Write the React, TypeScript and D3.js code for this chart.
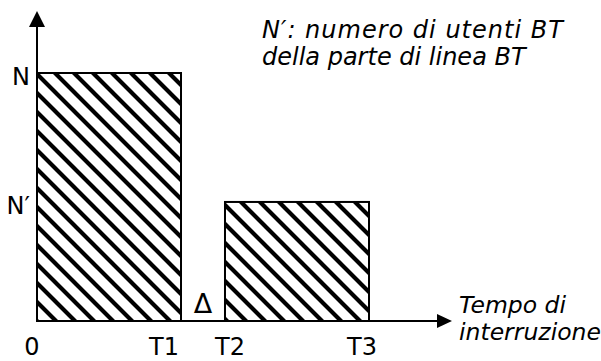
import React from "react";
import * as d3 from "d3";

// interruption times (arbitrary units) and users affected
const T1 = 3.47;
const T2 = 4.53;
const T3 = 8;
const N = 8;
const Nprime = 3.84;

const barStarts = [0, T2];
const barEnds = [T1, T3];
const barHeights = [N, Nprime];

const xTickValues = [0, T1, T2, T3];
const xTickLabels = ["0", "T1", "T2", "T3"];
const yTickValues = [N, Nprime];
const yTickLabels = ["N", "N′"];

const noteLines = ["N′: numero di utenti BT", "della parte di linea BT"];
const xTitleLines = ["Tempo di", "interruzione"];

const width = 601;
const height = 361;

const App = () => {
  const x = d3.scaleLinear().domain([0, 10]).range([37, 452]);
  const y = d3.scaleLinear().domain([0, 10]).range([321, 11]);
  const font = "'DejaVu Sans', Verdana, sans-serif";

  // label nudges so they sit like the original
  const xLabelAnchor = ["middle", "end", "start", "middle"];
  const xLabelDx = [-5, -2, -10, -7];
  const noteSpacing = [1, 0];

  const x0 = x(0);
  const y0 = y(0);
  const xEnd = x(10);
  const yEnd = y(10);

  return (
    <div style={{ position: "absolute", left: 0, top: 0 }}>
      <svg width={width} height={height} style={{ display: "block", background: "#fff" }}>
        <defs>
          <pattern
            id="hatch"
            patternUnits="userSpaceOnUse"
            width={19}
            height={19}
            x={x0}
            y={y0}
          >
            <rect width={19} height={19} fill="#fff" />
            <path
              d="M-3,-3 L22,22 M-3,16 L3,22 M16,-3 L22,3"
              stroke="#000"
              strokeWidth={4.2}
            />
          </pattern>
        </defs>

        {barStarts.map((s, i) => (
          <rect
            key={i}
            x={x(s)}
            y={y(barHeights[i])}
            width={x(barEnds[i]) - x(s)}
            height={y0 - y(barHeights[i])}
            fill="url(#hatch)"
            stroke="#000"
            strokeWidth={2}
          />
        ))}

        {/* axes with arrows */}
        <line x1={x0} y1={y0} x2={xEnd - 12} y2={y0} stroke="#000" strokeWidth={2} />
        <path d={`M${xEnd},${y0} L${xEnd - 15},${y0 - 7} L${xEnd - 15},${y0 + 7} Z`} fill="#000" />
        <line x1={x0} y1={y0} x2={x0} y2={yEnd + 12} stroke="#000" strokeWidth={2} />
        <path d={`M${x0},${yEnd} L${x0 - 8},${yEnd + 16} L${x0 + 8},${yEnd + 16} Z`} fill="#000" />

        {xTickValues.map((v, i) => (
          <text
            key={i}
            x={x(v) + xLabelDx[i]}
            y={355}
            textAnchor={xLabelAnchor[i]}
            fontFamily={font}
            fontSize={24}
          >
            {xTickLabels[i]}
          </text>
        ))}

        {yTickValues.map((v, i) => (
          <text
            key={i}
            x={x0 - 7}
            y={y(v) + 12}
            textAnchor="end"
            fontFamily={font}
            fontSize={24}
          >
            {yTickLabels[i]}
          </text>
        ))}

        <text
          x={(x(T1) + x(T2)) / 2}
          y={313}
          textAnchor="middle"
          fontFamily={font}
          fontSize={27}
        >
          Δ
        </text>

        {noteLines.map((t, i) => (
          <text
            key={i}
            x={262}
            y={38 + i * 27}
            fontFamily={font}
            fontSize={24}
            fontStyle="italic"
            letterSpacing={noteSpacing[i]}
          >
            {t}
          </text>
        ))}

        {xTitleLines.map((t, i) => (
          <text
            key={i}
            x={459}
            y={313 + i * 27}
            fontFamily={font}
            fontSize={23.5}
            fontStyle="italic"
          >
            {t}
          </text>
        ))}
      </svg>
    </div>
  );
};

export default App;
